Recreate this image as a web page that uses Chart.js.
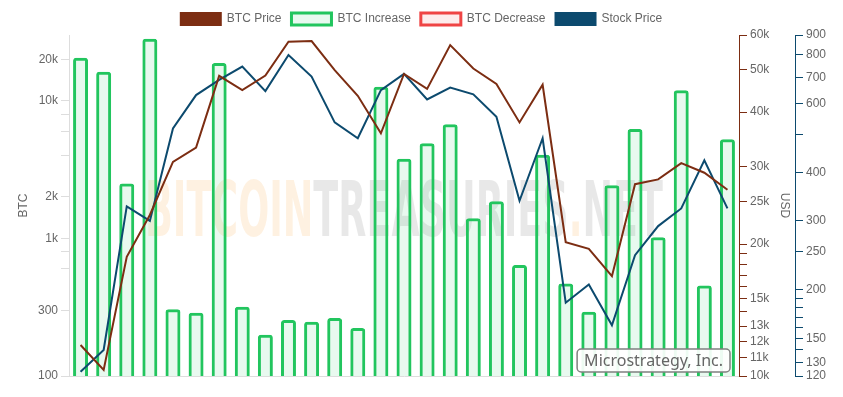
<!DOCTYPE html>
<html>
<head>
<meta charset="utf-8">
<script src="https://cdn.jsdelivr.net/npm/chart.js@4.4.0/dist/chart.umd.min.js"></script>
<style>
  html, body { margin: 0; padding: 0; background: #fff; }
</style>
</head>
<body>
<canvas id="btcChart" width="843" height="397"></canvas>
<script>
// purchase dates (categories, x labels are hidden in the chart)
const purchaseDates = [
  "2020-08-11", "2020-09-14", "2020-12-04", "2020-12-21", "2021-01-22",
  "2021-02-02", "2021-02-24", "2021-03-01", "2021-03-05", "2021-03-12",
  "2021-04-05", "2021-05-13", "2021-05-18", "2021-06-21", "2021-08-24",
  "2021-09-13", "2021-11-29", "2021-12-09", "2021-12-30", "2022-02-01",
  "2022-04-05", "2022-06-29", "2022-09-20", "2022-12-27", "2023-03-27",
  "2023-04-05", "2023-06-28", "2023-08-01", "2023-09-25",
];
const btcIncrease = [
  20500, 16200, 2500, 28200, 305, 288, 18800, 318, 199, 255,
  248, 264, 223, 12600, 3780, 4900, 6750, 1400, 1860, 641,
  4050, 470, 293, 2430, 6240, 1020, 11900, 454, 5250,
];
const btcDecrease = [];
const btcPrice = [
  11770, 10320, 18700, 23300, 30800, 33200, 48400, 44900, 48500, 57900,
  58100, 49900, 43600, 35800, 48900, 45200, 56900, 50300, 46400, 37900,
  46200, 20200, 19500, 16900, 27400, 28100, 30600, 29100, 26600,
];
const stockPrice = [
  123, 140, 327, 300, 518, 631, 690, 747, 646, 800,
  704, 537, 489, 650, 715, 615, 660, 634, 555, 338,
  489, 185, 206, 162, 245, 291, 323, 429, 323,
];

// axis ticks
const btcTicks = [100, 300, 600, 800, 1000, 2000, 4000, 6000, 8000, 10000, 20000];
const btcTickLabels = ["100", "300", "", "", "1k", "2k", "", "", "", "10k", "20k"];
const priceTicks = [10000, 11000, 12000, 13000, 14000, 15000, 16000, 17000, 18000, 19000, 20000, 25000, 30000, 40000, 50000, 60000];
const priceTickLabels = ["10k", "11k", "12k", "13k", "", "15k", "", "", "", "", "20k", "25k", "30k", "40k", "50k", "60k"];
const stockTicks = [120, 130, 140, 150, 160, 170, 180, 190, 200, 250, 300, 400, 500, 600, 700, 800, 900];
const stockTickLabels = ["120", "130", "", "150", "", "", "", "", "200", "250", "300", "400", "", "600", "700", "800", "900"];

const brown = "#7c2d12";
const navy = "#0c4a6e";
const green = "#22c55e";
const red = "#ef4444";
const fontFamily = "'Liberation Sans', Arial, sans-serif";

Chart.defaults.font.family = fontFamily;
Chart.defaults.font.size = 12;
Chart.defaults.color = "#666";

const watermark = {
  id: "watermark",
  beforeDatasetsDraw(chart) {
    const { ctx, chartArea } = chart;
    const parts = [
      ["BITCOIN", "rgba(247,147,26,0.13)"],
      ["TREASURIES", "rgba(0,0,0,0.09)"],
      [".", "rgba(247,147,26,0.13)"],
      ["NET", "rgba(0,0,0,0.09)"],
    ];
    ctx.save();
    ctx.font = "bold 77px 'DejaVu Sans Condensed', 'DejaVu Sans', sans-serif";
    ctx.textBaseline = "alphabetic";
    let total = 0;
    parts.forEach((p) => (total += ctx.measureText(p[0]).width));
    const targetW = 518;
    const sx = targetW / total;
    const cx = (chartArea.left + chartArea.right) / 2;
    const baseY = 236;
    ctx.translate(cx - targetW / 2, baseY);
    ctx.scale(sx, 1);
    let x = 0;
    parts.forEach((p) => {
      ctx.fillStyle = p[1];
      ctx.fillText(p[0], x, 0);
      x += ctx.measureText(p[0]).width;
    });
    ctx.restore();
  },
  afterDatasetsDraw(chart) {
    const { ctx, chartArea } = chart;
    const text = "Microstrategy, Inc.";
    ctx.save();
    ctx.font = "16px 'Noto Sans', sans-serif";
    const w = ctx.measureText(text).width + 14;
    const h = 23;
    const x = chartArea.right - 9 - w;
    const y = chartArea.bottom - 4 - h;
    ctx.beginPath();
    ctx.roundRect(x, y, w, h, 4);
    ctx.fillStyle = "rgba(255,255,255,0.92)";
    ctx.fill();
    ctx.lineWidth = 1.5;
    ctx.strokeStyle = "#808080";
    ctx.stroke();
    ctx.fillStyle = "#666";
    ctx.textBaseline = "middle";
    ctx.fillText(text, x + 7, y + h / 2 + 1);
    ctx.restore();
  },
};

function fixedTicks(values) {
  return (scale) => {
    scale.ticks = values.map((v) => ({ value: v }));
  };
}

new Chart(document.getElementById("btcChart"), {
  type: "bar",
  data: {
    labels: purchaseDates,
    datasets: [
      {
        type: "line",
        label: "BTC Price",
        data: btcPrice,
        yAxisID: "yPrice",
        borderColor: brown,
        backgroundColor: brown,
        borderWidth: 2,
        pointRadius: 0,
        tension: 0,
        order: 1,
      },
      {
        type: "bar",
        label: "BTC Increase",
        data: btcIncrease,
        yAxisID: "y",
        borderColor: green,
        backgroundColor: "rgba(34,197,94,0.1)",
        borderWidth: 3,
        borderRadius: 3,
        grouped: false,
        barPercentage: 0.81,
        categoryPercentage: 0.8,
        order: 2,
      },
      {
        type: "bar",
        label: "BTC Decrease",
        data: btcDecrease,
        yAxisID: "y",
        borderColor: red,
        backgroundColor: "rgba(239,68,68,0.1)",
        borderWidth: 3,
        borderRadius: 3,
        grouped: false,
        order: 2,
      },
      {
        type: "line",
        label: "Stock Price",
        data: stockPrice,
        yAxisID: "yStock",
        borderColor: navy,
        backgroundColor: navy,
        borderWidth: 2,
        pointRadius: 0,
        tension: 0,
        order: 1,
      },
    ],
  },
  options: {
    responsive: false,
    animation: false,
    layout: { padding: { top: 3, bottom: 13, left: 0, right: 0 } },
    plugins: {
      legend: {
        labels: {
          boxWidth: 40,
          color: "#666",
          sort: (a, b) => a.datasetIndex - b.datasetIndex,
        },
      },
      tooltip: { enabled: false },
    },
    scales: {
      x: {
        grid: { display: false },
        border: { color: "#ddd" },
        ticks: { display: false },
      },
      y: {
        type: "logarithmic",
        position: "left",
        min: 100,
        max: 30000,
        afterBuildTicks: fixedTicks(btcTicks),
        afterFit: (s) => { s.width = 69; },
        ticks: { autoSkip: false, callback: (v, i) => btcTickLabels[i] },
        grid: { drawOnChartArea: false, color: "#ddd", tickLength: 8 },
        border: { color: "#ddd" },
        title: { display: true, text: "BTC", color: "#666", padding: { top: 16, bottom: 0 } },
      },
      yPrice: {
        type: "logarithmic",
        position: "right",
        weight: 0,
        min: 10000,
        max: 60000,
        afterBuildTicks: fixedTicks(priceTicks),
        afterFit: (s) => { s.width = 56; },
        ticks: { autoSkip: false, callback: (v, i) => priceTickLabels[i] },
        grid: { drawOnChartArea: false, color: brown, tickLength: 8 },
        border: { color: brown },
        title: { display: true, text: "USD", color: "#666", padding: { top: 3, bottom: 0 } },
      },
      yStock: {
        type: "logarithmic",
        position: "right",
        weight: 1,
        min: 120,
        max: 900,
        afterBuildTicks: fixedTicks(stockTicks),
        afterFit: (s) => { s.width = 48; },
        ticks: { autoSkip: false, callback: (v, i) => stockTickLabels[i] },
        grid: { drawOnChartArea: false, color: navy, tickLength: 8 },
        border: { color: navy },
      },
    },
  },
  plugins: [watermark],
});
</script>
</body>
</html>
